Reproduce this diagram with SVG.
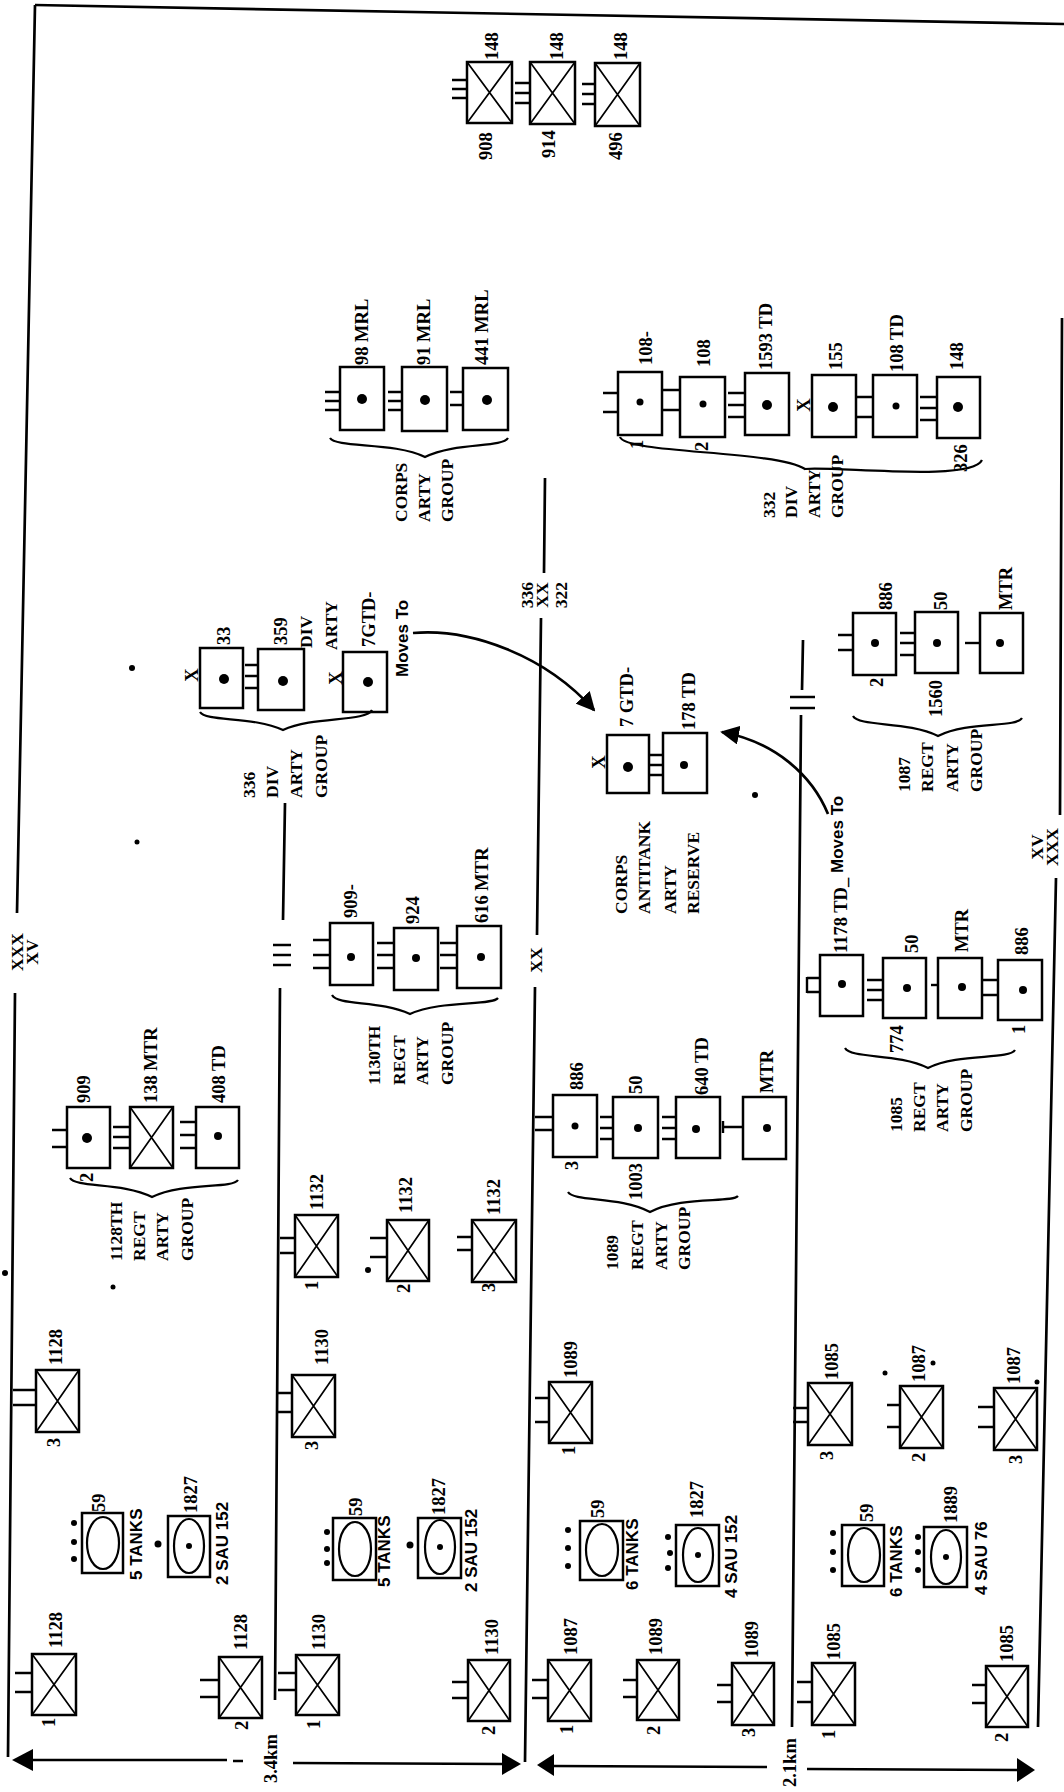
<svg xmlns="http://www.w3.org/2000/svg" width="1064" height="1792" viewBox="0 0 1064 1792">
<style>
.bx{fill:none;stroke:#000;stroke-width:2.5}
.xl{stroke:#000;stroke-width:1.7}
.tk{stroke:#000;stroke-width:2.4}
.dt{fill:#000}
.el{fill:none;stroke:#000;stroke-width:2.2}
.n{font-family:"Liberation Serif",serif;font-weight:bold;font-size:18.5px;fill:#000}
.g{font-family:"Liberation Serif",serif;font-weight:bold;font-size:17.5px;fill:#000}
.s{font-family:"Liberation Sans",sans-serif;font-weight:bold;font-size:17px;fill:#000}
.ln{fill:none;stroke:#000;stroke-width:2.7}
.br{fill:none;stroke:#000;stroke-width:2.2}
</style>
<defs>
<marker id="ah" viewBox="0 0 10 10" refX="9" refY="5" markerWidth="7" markerHeight="7" orient="auto" markerUnits="strokeWidth">
<path d="M0,0 L10,5 L0,10 z" fill="#000"/>
</marker>
</defs>
<rect width="1064" height="1792" fill="#fff"/>

<g id="connectors">
<path class="ln" d="M35 5 L1064 24"/>
<path class="ln" d="M35 5 L17 913 M15 993 L8 1757"/>
<path class="ln" d="M285 803 L283 920 M280 988 L275 1700"/>
<path class="tk" d="M273 945 H291 M273 955 H291 M273 965 H291"/>
<path class="ln" d="M545 478 L544 573 M541 618 L537 935 M535 987 L525 1762"/>
<path class="ln" d="M803 640 L802 690 M801 715 L792 1727"/>
<path class="tk" d="M790 697 H815 M790 708 H815"/>
<path class="ln" d="M1062 318 L1060 815 M1056 878 L1038 1727"/>
<path class="ln" d="M32 1760 L227 1760 M233 1761 L243 1761 M293 1763 L502 1764"/>
<polygon points="12,1760 33,1749 33,1771" fill="#000"/>
<polygon points="521,1764 502,1753 502,1775" fill="#000"/>
<polygon points="537,1765 554,1754 554,1776" fill="#000"/>
<path class="ln" d="M553 1766 L767 1767 M807 1769 L1017 1770"/>
<polygon points="1035,1770 1017,1758 1017,1782" fill="#000"/>
<path class="br" d="M330 438 C336 448,395 442,425 457 C455 442,502 448,508 438"/>
<path class="br" d="M620 437 C626 454,775 450,805 469 C835 466,972 482,982 460"/>
<path class="br" d="M200 712 C206 722,253 716,283 730 C313 716,366 722,372 710"/>
<path class="br" d="M70 1178 C76 1188,122 1182,152 1197 C182 1182,232 1189,238 1180"/>
<path class="br" d="M332 995 C338 1006,380 1000,410 1014 C440 1000,492 1006,498 998"/>
<path class="br" d="M568 1192 C574 1202,620 1196,650 1212 C680 1196,732 1203,738 1196"/>
<path class="br" d="M853 716 C859 727,908 721,938 736 C968 721,1016 728,1022 718"/>
<path class="br" d="M845 1048 C851 1059,898 1053,928 1068 C958 1053,1009 1060,1015 1050"/>
<path class="ln" d="M413 633 C470 628,545 655,594 710" marker-end="url(#ah)"/>
<path class="ln" d="M828 814 C812 775,775 742,722 732" marker-end="url(#ah)"/>
</g>

<g id="labels">
<text class="g" text-anchor="middle" transform="translate(23 952) rotate(-90)">XXX</text>
<text class="g" text-anchor="middle" transform="translate(38 952) rotate(-90)">XV</text>
<text class="g" text-anchor="middle" transform="translate(1043 847) rotate(-90)">XV</text>
<text class="g" text-anchor="middle" transform="translate(1058 847) rotate(-90)">XXX</text>
<text class="g" text-anchor="middle" transform="translate(533 595) rotate(-90)">336</text>
<text class="g" text-anchor="middle" transform="translate(548 595) rotate(-90)">XX</text>
<text class="g" text-anchor="middle" transform="translate(567 595) rotate(-90)">322</text>
<text class="g" text-anchor="middle" transform="translate(542 960) rotate(-90)">XX</text>
<text class="n" transform="translate(277 1783) rotate(-90)">3.4km</text>
<text class="n" transform="translate(796 1787) rotate(-90)">2.1km</text>
<text class="g" transform="translate(407 522) rotate(-90)">CORPS</text>
<text class="g" transform="translate(430 522) rotate(-90)">ARTY</text>
<text class="g" transform="translate(453 522) rotate(-90)">GROUP</text>
<text class="g" transform="translate(775 518) rotate(-90)">332</text>
<text class="g" transform="translate(797 518) rotate(-90)">DIV</text>
<text class="g" transform="translate(820 518) rotate(-90)">ARTY</text>
<text class="g" transform="translate(843 518) rotate(-90)">GROUP</text>
<text class="g" transform="translate(255 798) rotate(-90)">336</text>
<text class="g" transform="translate(278 798) rotate(-90)">DIV</text>
<text class="g" transform="translate(302 798) rotate(-90)">ARTY</text>
<text class="g" transform="translate(327 798) rotate(-90)">GROUP</text>
<text class="g" transform="translate(627 914) rotate(-90)">CORPS</text>
<text class="g" transform="translate(650 914) rotate(-90)">ANTITANK</text>
<text class="g" transform="translate(676 914) rotate(-90)">ARTY</text>
<text class="g" transform="translate(699 914) rotate(-90)">RESERVE</text>
<text class="g" transform="translate(910 792) rotate(-90)">1087</text>
<text class="g" transform="translate(933 792) rotate(-90)">REGT</text>
<text class="g" transform="translate(958 792) rotate(-90)">ARTY</text>
<text class="g" transform="translate(982 792) rotate(-90)">GROUP</text>
<text class="g" transform="translate(122 1261) rotate(-90)">1128TH</text>
<text class="g" transform="translate(145 1261) rotate(-90)">REGT</text>
<text class="g" transform="translate(168 1261) rotate(-90)">ARTY</text>
<text class="g" transform="translate(193 1261) rotate(-90)">GROUP</text>
<text class="g" transform="translate(380 1085) rotate(-90)">1130TH</text>
<text class="g" transform="translate(405 1085) rotate(-90)">REGT</text>
<text class="g" transform="translate(428 1085) rotate(-90)">ARTY</text>
<text class="g" transform="translate(453 1085) rotate(-90)">GROUP</text>
<text class="g" transform="translate(618 1270) rotate(-90)">1089</text>
<text class="g" transform="translate(643 1270) rotate(-90)">REGT</text>
<text class="g" transform="translate(667 1270) rotate(-90)">ARTY</text>
<text class="g" transform="translate(690 1270) rotate(-90)">GROUP</text>
<text class="g" transform="translate(902 1132) rotate(-90)">1085</text>
<text class="g" transform="translate(925 1132) rotate(-90)">REGT</text>
<text class="g" transform="translate(948 1132) rotate(-90)">ARTY</text>
<text class="g" transform="translate(972 1132) rotate(-90)">GROUP</text>
<text class="s" transform="translate(408 677) rotate(-90)">Moves To</text>
<text class="s" transform="translate(843 873) rotate(-90)">Moves To</text>
</g>

<g id="marks">
<circle class="dt" cx="132" cy="668" r="3"/>
<circle class="dt" cx="137" cy="842" r="2.5"/>
<circle class="dt" cx="5" cy="1273" r="3"/>
<circle class="dt" cx="113" cy="1287" r="2.5"/>
<circle class="dt" cx="368" cy="1270" r="3"/>
<circle class="dt" cx="755" cy="795" r="3"/>
<circle class="dt" cx="933" cy="1363" r="2.5"/>
<circle class="dt" cx="885" cy="1373" r="2.5"/>
<circle class="dt" cx="1037" cy="1382" r="2.5"/>
</g>

<!-- corps top -->
<g id="n908"><rect class="bx" x="467" y="62" width="45" height="61"/><path class="xl" d="M467 62 L512 123 M512 62 L467 123"/><path class="tk" d="M452 80 H467 M452 89 H467 M452 98 H467"/><text class="n" transform="translate(498 60) rotate(-90)">148</text><text class="n" transform="translate(492 160) rotate(-90)">908</text></g>
<g id="n914"><rect class="bx" x="530" y="62" width="45" height="62"/><path class="xl" d="M530 62 L575 124 M575 62 L530 124"/><path class="tk" d="M515 83 H530 M515 93 H530 M515 103 H530"/><text class="n" transform="translate(563 60) rotate(-90)">148</text><text class="n" transform="translate(555 158) rotate(-90)">914</text></g>
<g id="n496"><rect class="bx" x="595" y="63" width="45" height="63"/><path class="xl" d="M595 63 L640 126 M640 63 L595 126"/><path class="tk" d="M582 84 H595 M582 94 H595 M582 104 H595"/><text class="n" transform="translate(627 60) rotate(-90)">148</text><text class="n" transform="translate(622 160) rotate(-90)">496</text></g>

<!-- corps arty group -->
<g id="n98mrl"><rect class="bx" x="340" y="367" width="44" height="63"/><circle class="dt" cx="362" cy="399" r="5"/><path class="tk" d="M325 392 H340 M325 401 H340 M325 410 H340"/><text class="n" transform="translate(368 365) rotate(-90)">98 MRL</text></g>
<g id="n91mrl"><rect class="bx" x="402" y="367" width="45" height="64"/><circle class="dt" cx="425" cy="400" r="5"/><path class="tk" d="M388 392 H402 M388 401 H402 M388 410 H402"/><text class="n" transform="translate(430 365) rotate(-90)">91 MRL</text></g>
<g id="n441mrl"><rect class="bx" x="463" y="368" width="45" height="62"/><circle class="dt" cx="487" cy="400" r="5"/><path class="tk" d="M450 392 H463 M450 405 H463"/><text class="n" transform="translate(488 365) rotate(-90)">441 MRL</text></g>

<!-- 332 div arty -->
<g id="n108a"><rect class="bx" x="618" y="372" width="44" height="63"/><circle class="dt" cx="640" cy="402" r="3.5"/><path class="tk" d="M603 393 H618 M603 412 H618"/><text class="n" transform="translate(652 365) rotate(-90)">108-</text><text class="n" transform="translate(643 449) rotate(-90)">1</text></g>
<g id="n108b"><rect class="bx" x="680" y="377" width="45" height="60"/><circle class="dt" cx="703" cy="404" r="3.5"/><path class="tk" d="M662 390 H680 M662 410 H680"/><text class="n" transform="translate(710 367) rotate(-90)">108</text><text class="n" transform="translate(708 451) rotate(-90)">2</text></g>
<g id="n1593"><rect class="bx" x="745" y="373" width="44" height="62"/><circle class="dt" cx="767" cy="405" r="5"/><path class="tk" d="M728 393 H745 M728 405 H745 M728 417 H745"/><text class="n" transform="translate(772 370) rotate(-90)">1593 TD</text></g>
<g id="n155"><rect class="bx" x="812" y="375" width="44" height="62"/><circle class="dt" cx="833" cy="407" r="5"/><text class="n" text-anchor="middle" transform="translate(810 405) rotate(-90)">X</text><text class="n" transform="translate(842 370) rotate(-90)">155</text></g>
<g id="n108td"><rect class="bx" x="873" y="375" width="44" height="62"/><circle class="dt" cx="896" cy="406" r="3.5"/><path class="tk" d="M856 397 H873 M856 417 H873"/><text class="n" transform="translate(903 372) rotate(-90)">108 TD</text></g>
<g id="n148"><rect class="bx" x="937" y="377" width="43" height="61"/><circle class="dt" cx="958" cy="407" r="5"/><path class="tk" d="M920 397 H937 M920 408 H937 M920 420 H937"/><text class="n" transform="translate(963 370) rotate(-90)">148</text><text class="n" transform="translate(967 472) rotate(-90)">326</text></g>

<!-- 336 div arty -->
<g id="n33"><rect class="bx" x="200" y="648" width="43" height="60"/><circle class="dt" cx="224" cy="679" r="5"/><text class="n" text-anchor="middle" transform="translate(198 675) rotate(-90)">X</text><text class="n" transform="translate(230 645) rotate(-90)">33</text></g>
<g id="n359"><rect class="bx" x="258" y="649" width="46" height="61"/><circle class="dt" cx="283" cy="681" r="5"/><path class="tk" d="M245 665 H258 M245 676 H258 M245 688 H258"/><text class="n" transform="translate(287 645) rotate(-90)">359</text><text class="g" transform="translate(312 648) rotate(-90)">DIV</text><text class="g" transform="translate(337 650) rotate(-90)">ARTY</text></g>
<g id="n7gtd"><rect class="bx" x="343" y="652" width="44" height="60"/><circle class="dt" cx="368" cy="682" r="5"/><text class="n" text-anchor="middle" transform="translate(342 678) rotate(-90)">X</text><text class="n" transform="translate(375 647) rotate(-90)">7GTD-</text></g>

<!-- corps antitank reserve -->
<g id="n7gtd2"><rect class="bx" x="607" y="735" width="42" height="58"/><circle class="dt" cx="628" cy="767" r="5"/><text class="n" text-anchor="middle" transform="translate(605 762) rotate(-90)">X</text><text class="n" transform="translate(633 727) rotate(-90)">7 GTD-</text></g>
<g id="n178td"><rect class="bx" x="663" y="733" width="44" height="60"/><circle class="dt" cx="684" cy="765" r="4"/><path class="tk" d="M649 755 H663 M649 765 H663 M649 775 H663"/><text class="n" transform="translate(695 730) rotate(-90)">178 TD</text></g>

<!-- 1087 regt arty -->
<g id="n886a"><rect class="bx" x="853" y="613" width="43" height="62"/><circle class="dt" cx="875" cy="643" r="4"/><path class="tk" d="M838 635 H853 M838 650 H853"/><text class="n" transform="translate(892 610) rotate(-90)">886</text><text class="n" transform="translate(883 687) rotate(-90)">2</text></g>
<g id="n50a"><rect class="bx" x="915" y="612" width="43" height="61"/><circle class="dt" cx="937" cy="643" r="4"/><path class="tk" d="M900 633 H915 M900 643 H915 M900 655 H915"/><text class="n" transform="translate(947 610) rotate(-90)">50</text><text class="n" transform="translate(942 717) rotate(-90)">1560</text></g>
<g id="nmtra"><rect class="bx" x="980" y="613" width="43" height="60"/><circle class="dt" cx="1000" cy="643" r="4"/><path class="tk" d="M965 643 H980"/><text class="n" transform="translate(1012 610) rotate(-90)">MTR</text></g>

<!-- 1128th regt arty -->
<g id="n909"><rect class="bx" x="67" y="1107" width="43" height="61"/><circle class="dt" cx="87" cy="1138" r="5"/><path class="tk" d="M52 1130 H67 M52 1147 H67"/><text class="n" transform="translate(90 1103) rotate(-90)">909</text><text class="n" transform="translate(93 1182) rotate(-90)">2</text></g>
<g id="n138mtr"><rect class="bx" x="130" y="1107" width="43" height="61"/><path class="xl" d="M130 1107 L173 1168 M173 1107 L130 1168"/><path class="tk" d="M113 1127 H130 M113 1137 H130 M113 1148 H130"/><text class="n" transform="translate(157 1103) rotate(-90)">138 MTR</text></g>
<g id="n408td"><rect class="bx" x="196" y="1107" width="43" height="61"/><circle class="dt" cx="218" cy="1136" r="4"/><path class="tk" d="M180 1122 H196 M180 1135 H196 M180 1148 H196"/><text class="n" transform="translate(225 1103) rotate(-90)">408 TD</text></g>

<!-- 1130th regt arty -->
<g id="n909b"><rect class="bx" x="330" y="923" width="43" height="62"/><circle class="dt" cx="351" cy="957" r="4"/><path class="tk" d="M313 940 H330 M313 955 H330 M313 968 H330"/><text class="n" transform="translate(357 918) rotate(-90)">909-</text></g>
<g id="n924"><rect class="bx" x="394" y="928" width="44" height="62"/><circle class="dt" cx="416" cy="958" r="4"/><path class="tk" d="M377 943 H394 M377 955 H394 M377 968 H394"/><text class="n" transform="translate(419 924) rotate(-90)">924</text></g>
<g id="n616"><rect class="bx" x="457" y="926" width="44" height="62"/><circle class="dt" cx="481" cy="957" r="4"/><path class="tk" d="M440 943 H457 M440 955 H457 M440 968 H457"/><text class="n" transform="translate(488 923) rotate(-90)">616 MTR</text></g>

<!-- 1132 -->
<g id="n1132a"><rect class="bx" x="295" y="1215" width="43" height="62"/><path class="xl" d="M295 1215 L338 1277 M338 1215 L295 1277"/><path class="tk" d="M280 1238 H295 M280 1253 H295"/><text class="n" transform="translate(323 1210) rotate(-90)">1132</text><text class="n" transform="translate(318 1290) rotate(-90)">1</text></g>
<g id="n1132b"><rect class="bx" x="387" y="1220" width="42" height="61"/><path class="xl" d="M387 1220 L429 1281 M429 1220 L387 1281"/><path class="tk" d="M370 1238 H387 M370 1257 H387"/><text class="n" transform="translate(412 1213) rotate(-90)">1132</text><text class="n" transform="translate(410 1293) rotate(-90)">2</text></g>
<g id="n1132c"><rect class="bx" x="472" y="1220" width="44" height="62"/><path class="xl" d="M472 1220 L516 1282 M516 1220 L472 1282"/><path class="tk" d="M457 1237 H472 M457 1250 H472"/><text class="n" transform="translate(500 1215) rotate(-90)">1132</text><text class="n" transform="translate(495 1292) rotate(-90)">3</text></g>

<!-- 1089 regt arty -->
<g id="n886b"><rect class="bx" x="553" y="1095" width="44" height="62"/><circle class="dt" cx="575" cy="1126" r="3.5"/><path class="tk" d="M535 1117 H553 M535 1130 H553"/><text class="n" transform="translate(583 1090) rotate(-90)">886</text><text class="n" transform="translate(578 1170) rotate(-90)">3</text></g>
<g id="n50b"><rect class="bx" x="613" y="1097" width="45" height="61"/><circle class="dt" cx="638" cy="1128" r="4"/><path class="tk" d="M600 1117 H613 M600 1128 H613 M600 1139 H613"/><text class="n" transform="translate(642 1094) rotate(-90)">50</text><text class="n" transform="translate(642 1200) rotate(-90)">1003</text></g>
<g id="n640td"><rect class="bx" x="676" y="1097" width="44" height="61"/><circle class="dt" cx="696" cy="1129" r="4"/><path class="tk" d="M662 1117 H676 M662 1128 H676 M662 1139 H676"/><text class="n" transform="translate(708 1095) rotate(-90)">640 TD</text></g>
<g id="nmtrb"><rect class="bx" x="743" y="1097" width="43" height="62"/><circle class="dt" cx="767" cy="1128" r="4"/><path class="tk" d="M723 1127 H743 M723 1121 V1133"/><text class="n" transform="translate(773 1093) rotate(-90)">MTR</text></g>

<!-- 1085 regt arty -->
<g id="n1178td"><rect class="bx" x="820" y="955" width="43" height="61"/><circle class="dt" cx="842" cy="984" r="4"/><path class="tk" d="M807 978 H820 M807 992 H820 M807 977 V993"/><text class="n" transform="translate(847 953) rotate(-90)">1178 TD_</text></g>
<g id="n50c"><rect class="bx" x="883" y="958" width="43" height="60"/><circle class="dt" cx="907" cy="988" r="4"/><path class="tk" d="M867 980 H883 M867 990 H883 M867 1000 H883"/><text class="n" transform="translate(918 953) rotate(-90)">50</text><text class="n" transform="translate(903 1053) rotate(-90)">774</text></g>
<g id="nmtrc"><rect class="bx" x="938" y="958" width="44" height="60"/><circle class="dt" cx="962" cy="987" r="4"/><path class="tk" d="M931 985 H938"/><text class="n" transform="translate(968 952) rotate(-90)">MTR</text></g>
<g id="n886c"><rect class="bx" x="998" y="960" width="44" height="60"/><circle class="dt" cx="1023" cy="990" r="4"/><path class="tk" d="M983 980 H998 M983 995 H998"/><text class="n" transform="translate(1028 955) rotate(-90)">886</text><text class="n" transform="translate(1025 1034) rotate(-90)">1</text></g>

<!-- column 1 bottom -->
<g id="n1128c"><rect class="bx" x="36" y="1370" width="43" height="62"/><path class="xl" d="M36 1370 L79 1432 M79 1370 L36 1432"/><path class="tk" d="M13 1390 H36 M13 1405 H36"/><text class="n" transform="translate(62 1365) rotate(-90)">1128</text><text class="n" transform="translate(60 1447) rotate(-90)">3</text></g>
<g id="nt59a"><rect class="bx" x="82" y="1513" width="41" height="60"/><ellipse class="el" cx="103" cy="1543" rx="16" ry="26"/><circle class="dt" cx="74" cy="1523" r="3"/><circle class="dt" cx="74" cy="1542" r="3"/><circle class="dt" cx="74" cy="1559" r="3"/><text class="n" transform="translate(105 1512) rotate(-90)">59</text><text class="s" transform="translate(142 1580) rotate(-90)">5 TANKS</text></g>
<g id="ns1827a"><rect class="bx" x="168" y="1516" width="42" height="61"/><ellipse class="el" cx="189" cy="1546" rx="15" ry="27"/><circle class="dt" cx="189" cy="1546" r="3"/><circle class="dt" cx="158" cy="1544" r="3.5"/><text class="n" transform="translate(197 1513) rotate(-90)">1827</text><text class="s" transform="translate(228 1585) rotate(-90)">2 SAU 152</text></g>
<g id="n1128a"><rect class="bx" x="32" y="1654" width="44" height="61"/><path class="xl" d="M32 1654 L76 1715 M76 1654 L32 1715"/><path class="tk" d="M15 1673 H32 M15 1692 H32"/><text class="n" transform="translate(62 1648) rotate(-90)">1128</text><text class="n" transform="translate(55 1727) rotate(-90)">1</text></g>
<g id="n1128b"><rect class="bx" x="219" y="1657" width="43" height="61"/><path class="xl" d="M219 1657 L262 1718 M262 1657 L219 1718"/><path class="tk" d="M200 1680 H219 M200 1697 H219"/><text class="n" transform="translate(247 1650) rotate(-90)">1128</text><text class="n" transform="translate(248 1730) rotate(-90)">2</text></g>

<!-- column 2 bottom -->
<g id="n1130c"><rect class="bx" x="292" y="1375" width="43" height="62"/><path class="xl" d="M292 1375 L335 1437 M335 1375 L292 1437"/><path class="tk" d="M278 1393 H292 M278 1412 H292"/><text class="n" transform="translate(328 1365) rotate(-90)">1130</text><text class="n" transform="translate(318 1450) rotate(-90)">3</text></g>
<g id="nt59b"><rect class="bx" x="333" y="1518" width="43" height="62"/><ellipse class="el" cx="355" cy="1549" rx="16" ry="27"/><circle class="dt" cx="327" cy="1532" r="3"/><circle class="dt" cx="327" cy="1549" r="3"/><circle class="dt" cx="327" cy="1563" r="3"/><text class="n" transform="translate(362 1516) rotate(-90)">59</text><text class="s" transform="translate(390 1587) rotate(-90)">5 TANKS</text></g>
<g id="ns1827b"><rect class="bx" x="418" y="1518" width="43" height="60"/><ellipse class="el" cx="440" cy="1547" rx="15" ry="27"/><circle class="dt" cx="440" cy="1547" r="3"/><circle class="dt" cx="410" cy="1545" r="3.5"/><text class="n" transform="translate(445 1515) rotate(-90)">1827</text><text class="s" transform="translate(477 1592) rotate(-90)">2 SAU 152</text></g>
<g id="n1130a"><rect class="bx" x="296" y="1655" width="43" height="60"/><path class="xl" d="M296 1655 L339 1715 M339 1655 L296 1715"/><path class="tk" d="M278 1673 H296 M278 1690 H296"/><text class="n" transform="translate(325 1650) rotate(-90)">1130</text><text class="n" transform="translate(320 1729) rotate(-90)">1</text></g>
<g id="n1130b"><rect class="bx" x="468" y="1660" width="42" height="61"/><path class="xl" d="M468 1660 L510 1721 M510 1660 L468 1721"/><path class="tk" d="M452 1682 H468 M452 1698 H468"/><text class="n" transform="translate(498 1655) rotate(-90)">1130</text><text class="n" transform="translate(495 1735) rotate(-90)">2</text></g>

<!-- column 3 bottom -->
<g id="n1089a"><rect class="bx" x="549" y="1382" width="43" height="61"/><path class="xl" d="M549 1382 L592 1443 M592 1382 L549 1443"/><path class="tk" d="M535 1398 H549 M535 1422 H549"/><text class="n" transform="translate(577 1378) rotate(-90)">1089</text><text class="n" transform="translate(575 1455) rotate(-90)">1</text></g>
<g id="nt59c"><rect class="bx" x="580" y="1521" width="43" height="59"/><ellipse class="el" cx="602" cy="1550" rx="16" ry="26"/><circle class="dt" cx="568" cy="1530" r="3"/><circle class="dt" cx="568" cy="1548" r="3"/><circle class="dt" cx="568" cy="1566" r="3"/><text class="n" transform="translate(604 1518) rotate(-90)">59</text><text class="s" transform="translate(638 1590) rotate(-90)">6 TANKS</text></g>
<g id="ns1827c"><rect class="bx" x="676" y="1525" width="43" height="61"/><ellipse class="el" cx="698" cy="1555" rx="15" ry="27"/><circle class="dt" cx="698" cy="1555" r="3"/><circle class="dt" cx="668" cy="1537" r="3"/><circle class="dt" cx="670" cy="1553" r="3"/><circle class="dt" cx="668" cy="1568" r="3"/><text class="n" transform="translate(703 1518) rotate(-90)">1827</text><text class="s" transform="translate(737 1598) rotate(-90)">4 SAU 152</text></g>
<g id="n1087a"><rect class="bx" x="548" y="1660" width="43" height="61"/><path class="xl" d="M548 1660 L591 1721 M591 1660 L548 1721"/><path class="tk" d="M532 1680 H548 M532 1698 H548"/><text class="n" transform="translate(577 1655) rotate(-90)">1087</text><text class="n" transform="translate(573 1734) rotate(-90)">1</text></g>
<g id="n1089b"><rect class="bx" x="637" y="1660" width="42" height="60"/><path class="xl" d="M637 1660 L679 1720 M679 1660 L637 1720"/><path class="tk" d="M623 1680 H637 M623 1697 H637"/><text class="n" transform="translate(662 1655) rotate(-90)">1089</text><text class="n" transform="translate(660 1735) rotate(-90)">2</text></g>
<g id="n1089c"><rect class="bx" x="732" y="1663" width="42" height="62"/><path class="xl" d="M732 1663 L774 1725 M774 1663 L732 1725"/><path class="tk" d="M717 1685 H732 M717 1702 H732"/><text class="n" transform="translate(758 1658) rotate(-90)">1089</text><text class="n" transform="translate(755 1737) rotate(-90)">3</text></g>

<!-- column 4 bottom -->
<g id="n1085c"><rect class="bx" x="808" y="1383" width="44" height="62"/><path class="xl" d="M808 1383 L852 1445 M852 1383 L808 1445"/><path class="tk" d="M793 1408 H808 M793 1422 H808"/><text class="n" transform="translate(838 1380) rotate(-90)">1085</text><text class="n" transform="translate(833 1460) rotate(-90)">3</text></g>
<g id="n1087b"><rect class="bx" x="900" y="1386" width="43" height="62"/><path class="xl" d="M900 1386 L943 1448 M943 1386 L900 1448"/><path class="tk" d="M887 1405 H900 M887 1427 H900"/><text class="n" transform="translate(925 1382) rotate(-90)">1087</text><text class="n" transform="translate(925 1462) rotate(-90)">2</text></g>
<g id="n1087c"><rect class="bx" x="994" y="1388" width="43" height="62"/><path class="xl" d="M994 1388 L1037 1450 M1037 1388 L994 1450"/><path class="tk" d="M978 1407 H994 M978 1427 H994"/><text class="n" transform="translate(1020 1384) rotate(-90)">1087</text><text class="n" transform="translate(1022 1464) rotate(-90)">3</text></g>
<g id="nt59d"><rect class="bx" x="842" y="1525" width="42" height="61"/><ellipse class="el" cx="864" cy="1555" rx="16" ry="27"/><circle class="dt" cx="833" cy="1533" r="3"/><circle class="dt" cx="833" cy="1552" r="3"/><circle class="dt" cx="833" cy="1570" r="3"/><text class="n" transform="translate(873 1522) rotate(-90)">59</text><text class="s" transform="translate(902 1597) rotate(-90)">6 TANKS</text></g>
<g id="ns1889"><rect class="bx" x="924" y="1527" width="43" height="60"/><ellipse class="el" cx="946" cy="1557" rx="15" ry="27"/><circle class="dt" cx="946" cy="1557" r="3"/><circle class="dt" cx="918" cy="1537" r="3"/><circle class="dt" cx="918" cy="1552" r="3"/><circle class="dt" cx="918" cy="1570" r="3"/><text class="n" transform="translate(957 1523) rotate(-90)">1889</text><text class="s" transform="translate(987 1595) rotate(-90)">4 SAU 76</text></g>
<g id="n1085a"><rect class="bx" x="812" y="1663" width="43" height="62"/><path class="xl" d="M812 1663 L855 1725 M855 1663 L812 1725"/><path class="tk" d="M797 1682 H812 M797 1702 H812"/><text class="n" transform="translate(840 1660) rotate(-90)">1085</text><text class="n" transform="translate(835 1739) rotate(-90)">1</text></g>
<g id="n1085b"><rect class="bx" x="986" y="1666" width="42" height="61"/><path class="xl" d="M986 1666 L1028 1727 M1028 1666 L986 1727"/><path class="tk" d="M972 1685 H986 M972 1703 H986"/><text class="n" transform="translate(1013 1662) rotate(-90)">1085</text><text class="n" transform="translate(1008 1742) rotate(-90)">2</text></g>
</svg>
